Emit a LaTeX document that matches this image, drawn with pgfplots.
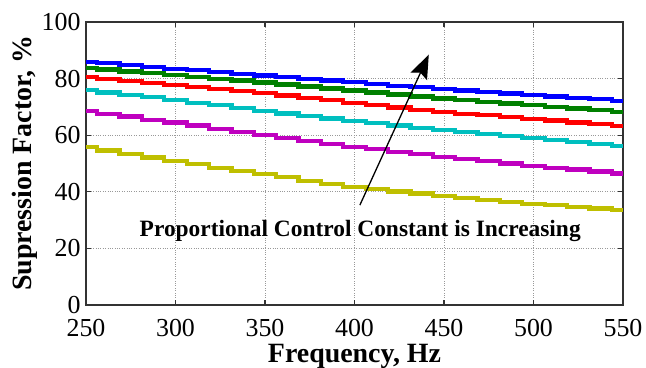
\documentclass[border=0pt]{standalone}
\usepackage{fontspec}
\setmainfont{Liberation Serif}
\usepackage{pgfplots}
\usepackage{pgfplotstable}
\pgfplotsset{compat=1.18}
\usetikzlibrary{arrows.meta}
\definecolor{mblue}{RGB}{0,0,255}
\definecolor{mgreen}{RGB}{0,128,0}
\definecolor{mred}{RGB}{255,0,0}
\definecolor{mcyan}{RGB}{0,191,191}
\definecolor{mmag}{RGB}{191,0,191}
\definecolor{myel}{RGB}{191,191,0}
\pgfplotstableread{
f      b     g     r     c     m     y
250    86.0  83.8  80.5  76.0  68.6  55.9
262.5  85.4  83.2  79.8  75.1  67.6  54.6
275    84.8  82.5  79.2  74.3  66.6  53.4
287.5  84.1  81.9  78.5  73.4  65.5  52.1
300    83.5  81.2  77.8  72.5  64.5  50.8
312.5  82.9  80.6  77.1  71.5  63.4  49.7
325    82.3  79.9  76.3  70.6  62.3  48.5
337.5  81.7  79.3  75.6  69.6  61.1  47.4
350    81.1  78.6  74.8  68.6  60.0  46.2
362.5  80.5  77.9  74.0  67.7  59.0  45.1
375    79.9  77.2  73.1  66.8  57.9  43.9
387.5  79.3  76.5  72.3  65.9  56.9  42.8
400    78.7  75.8  71.4  65.0  55.8  41.6
412.5  78.1  75.1  70.6  64.2  55.0  40.9
425    77.5  74.4  69.8  63.4  54.1  40.1
437.5  76.9  73.7  69.0  62.5  53.3  39.4
450    76.3  73.0  68.2  61.7  52.4  38.6
462.5  75.8  72.4  67.6  61.0  51.6  37.9
475    75.3  71.8  67.0  60.4  50.8  37.2
487.5  74.7  71.2  66.4  59.7  50.0  36.5
500    74.2  70.6  65.8  59.0  49.2  35.8
512.5  73.7  70.0  65.2  58.3  48.5  35.2
525    73.2  69.4  64.5  57.7  47.9  34.7
537.5  72.7  68.8  63.9  57.0  47.2  34.1
550    72.2  68.2  63.2  56.3  46.5  33.5
}\datatable
\begin{document}
\begin{tikzpicture}
\begin{axis}[
  name=ax,
  scale only axis,
  width=537bp, height=283bp,
  xmin=250, xmax=550, ymin=0, ymax=100,
  xtick={250,300,...,550}, ytick={0,20,...,100},
  grid=major,
  major grid style={dotted, line width=0.7bp, gray!80},
  axis line style={line width=1.1bp, black!80},
  tick style={line width=1.1bp, black!80},
  major tick length=5bp,
  tick align=inside,
  xtick pos=both, ytick pos=both,
  /pgf/number format/assume math mode=true,
  /pgf/number format/1000 sep={},
  tick label style={font=\fontsize{26}{28}\selectfont},
  xticklabel style={yshift=-11bp},
  yticklabel style={xshift=-2bp},
  label style={font=\bfseries\fontsize{28}{30}\selectfont},
  xlabel={Frequency, Hz},
  ylabel={Supression Factor, \%},
  xlabel style={yshift=0bp},
  ylabel style={yshift=-3bp},
  every axis plot/.append style={line width=4.2bp, const plot mark mid},
  clip=true,
]
\addplot[mblue] table[x=f,y=b]{\datatable};
\addplot[mgreen] table[x=f,y=g]{\datatable};
\addplot[mred] table[x=f,y=r]{\datatable};
\addplot[mcyan] table[x=f,y=c]{\datatable};
\addplot[mmag] table[x=f,y=m]{\datatable};
\addplot[myel] table[x=f,y=y]{\datatable};
\draw[-{Stealth[length=24bp,width=18bp,inset=4bp]}, line width=1.3bp] (axis cs:403,35.3) -- (axis cs:441.5,88.5);
\node[font=\bfseries\fontsize{23.5}{26}\selectfont, inner sep=0pt] at (axis cs:403.2,26.1) {Proportional Control Constant is Increasing};
\end{axis}
\pgfresetboundingbox
\path[use as bounding box] ([xshift=-86bp,yshift=-63bp]ax.south west) rectangle ([xshift=23bp,yshift=22bp]ax.north east);
\end{tikzpicture}
\end{document}
